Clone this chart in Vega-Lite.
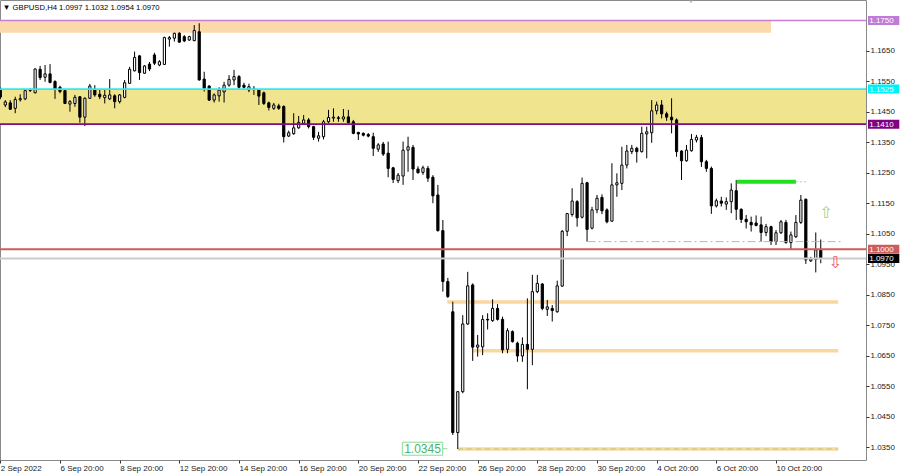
{
  "$schema": "https://vega.github.io/schema/vega-lite/v6.json",
  "width": 866,
  "height": 460,
  "autosize": {"type": "none"},
  "padding": {"left": 0, "top": 0, "right": 34, "bottom": 13},
  "background": "#ffffff",
  "resolve": {"scale": {"color": "independent"}},
  "config": {
    "view": {"stroke": "#8a8a8a", "strokeWidth": 1},
    "font": "Liberation Sans",
    "scale": {"continuousPadding": 0},
    "axis": {"labelFont": "Liberation Sans", "labelFontSize": 8, "labelColor": "#222222", "tickColor": "#333333", "domain": false, "grid": false, "labelOverlap": false}
  },
  "datasets": {
    "candles": [
      {"i":0,"o":1.1525,"h":1.1530,"l":1.1492,"c":1.1499},
      {"i":1,"o":1.1473,"h":1.1489,"l":1.1466,"c":1.1483},
      {"i":2,"o":1.1480,"h":1.1489,"l":1.1457,"c":1.1459},
      {"i":3,"o":1.1462,"h":1.1500,"l":1.1446,"c":1.1491},
      {"i":4,"o":1.1490,"h":1.1508,"l":1.1484,"c":1.1494},
      {"i":5,"o":1.1493,"h":1.1524,"l":1.1489,"c":1.1520},
      {"i":6,"o":1.1520,"h":1.1527,"l":1.1516,"c":1.1521},
      {"i":7,"o":1.1513,"h":1.1593,"l":1.1511,"c":1.1591},
      {"i":8,"o":1.1590,"h":1.1601,"l":1.1555,"c":1.1563},
      {"i":9,"o":1.1564,"h":1.1604,"l":1.1549,"c":1.1575},
      {"i":10,"o":1.1575,"h":1.1607,"l":1.1544,"c":1.1547},
      {"i":11,"o":1.1550,"h":1.1554,"l":1.1493,"c":1.1525},
      {"i":12,"o":1.1531,"h":1.1536,"l":1.1511,"c":1.1517},
      {"i":13,"o":1.1520,"h":1.1522,"l":1.1476,"c":1.1478},
      {"i":14,"o":1.1476,"h":1.1489,"l":1.1451,"c":1.1484},
      {"i":15,"o":1.1478,"h":1.1506,"l":1.1467,"c":1.1498},
      {"i":16,"o":1.1500,"h":1.1502,"l":1.1415,"c":1.1433},
      {"i":17,"o":1.1433,"h":1.1498,"l":1.1404,"c":1.1495},
      {"i":18,"o":1.1495,"h":1.1542,"l":1.1493,"c":1.1535},
      {"i":19,"o":1.1525,"h":1.1538,"l":1.1500,"c":1.1506},
      {"i":20,"o":1.1508,"h":1.1525,"l":1.1492,"c":1.1500},
      {"i":21,"o":1.1497,"h":1.1525,"l":1.1478,"c":1.1505},
      {"i":22,"o":1.1493,"h":1.1558,"l":1.1489,"c":1.1506},
      {"i":23,"o":1.1503,"h":1.1508,"l":1.1462,"c":1.1484},
      {"i":24,"o":1.1484,"h":1.1509,"l":1.1478,"c":1.1506},
      {"i":25,"o":1.1498,"h":1.1555,"l":1.1495,"c":1.1546},
      {"i":26,"o":1.1544,"h":1.1598,"l":1.1542,"c":1.1590},
      {"i":27,"o":1.1585,"h":1.1648,"l":1.1583,"c":1.1629},
      {"i":28,"o":1.1634,"h":1.1637,"l":1.1555,"c":1.1579},
      {"i":29,"o":1.1577,"h":1.1604,"l":1.1575,"c":1.1601},
      {"i":30,"o":1.1607,"h":1.1614,"l":1.1584,"c":1.1591},
      {"i":31,"o":1.1637,"h":1.1644,"l":1.1604,"c":1.1610},
      {"i":32,"o":1.1604,"h":1.1620,"l":1.1600,"c":1.1615},
      {"i":33,"o":1.1606,"h":1.1697,"l":1.1604,"c":1.1694},
      {"i":34,"o":1.1689,"h":1.1699,"l":1.1664,"c":1.1694},
      {"i":35,"o":1.1692,"h":1.1710,"l":1.1681,"c":1.1708},
      {"i":36,"o":1.1708,"h":1.1712,"l":1.1677,"c":1.1679},
      {"i":37,"o":1.1697,"h":1.1702,"l":1.1679,"c":1.1683},
      {"i":38,"o":1.1686,"h":1.1700,"l":1.1683,"c":1.1697},
      {"i":39,"o":1.1684,"h":1.1735,"l":1.1682,"c":1.1717},
      {"i":40,"o":1.1713,"h":1.1741,"l":1.1553,"c":1.1555},
      {"i":41,"o":1.1558,"h":1.1582,"l":1.1517,"c":1.1528},
      {"i":42,"o":1.1535,"h":1.1538,"l":1.1486,"c":1.1489},
      {"i":43,"o":1.1489,"h":1.1511,"l":1.1481,"c":1.1506},
      {"i":44,"o":1.1503,"h":1.1531,"l":1.1484,"c":1.1522},
      {"i":45,"o":1.1516,"h":1.1549,"l":1.1481,"c":1.1538},
      {"i":46,"o":1.1538,"h":1.1571,"l":1.1533,"c":1.1557},
      {"i":47,"o":1.1555,"h":1.1588,"l":1.1538,"c":1.1566},
      {"i":48,"o":1.1566,"h":1.1571,"l":1.1527,"c":1.1531},
      {"i":49,"o":1.1538,"h":1.1546,"l":1.1527,"c":1.1531},
      {"i":50,"o":1.1522,"h":1.1543,"l":1.1515,"c":1.1533},
      {"i":51,"o":1.1525,"h":1.1535,"l":1.1506,"c":1.1524},
      {"i":52,"o":1.1522,"h":1.1525,"l":1.1473,"c":1.1502},
      {"i":53,"o":1.1513,"h":1.1517,"l":1.1473,"c":1.1478},
      {"i":54,"o":1.1480,"h":1.1484,"l":1.1455,"c":1.1465},
      {"i":55,"o":1.1462,"h":1.1480,"l":1.1457,"c":1.1473},
      {"i":56,"o":1.1470,"h":1.1477,"l":1.1457,"c":1.1462},
      {"i":57,"o":1.1468,"h":1.1472,"l":1.1350,"c":1.1369},
      {"i":58,"o":1.1371,"h":1.1389,"l":1.1368,"c":1.1382},
      {"i":59,"o":1.1379,"h":1.1446,"l":1.1375,"c":1.1398},
      {"i":60,"o":1.1398,"h":1.1437,"l":1.1395,"c":1.1416},
      {"i":61,"o":1.1413,"h":1.1440,"l":1.1410,"c":1.1424},
      {"i":62,"o":1.1424,"h":1.1430,"l":1.1396,"c":1.1402},
      {"i":63,"o":1.1402,"h":1.1405,"l":1.1358,"c":1.1367},
      {"i":64,"o":1.1364,"h":1.1385,"l":1.1353,"c":1.1372},
      {"i":65,"o":1.1369,"h":1.1424,"l":1.1360,"c":1.1418},
      {"i":66,"o":1.1418,"h":1.1457,"l":1.1413,"c":1.1432},
      {"i":67,"o":1.1430,"h":1.1462,"l":1.1418,"c":1.1433},
      {"i":68,"o":1.1431,"h":1.1437,"l":1.1418,"c":1.1429},
      {"i":69,"o":1.1427,"h":1.1460,"l":1.1418,"c":1.1434},
      {"i":70,"o":1.1434,"h":1.1457,"l":1.1413,"c":1.1415},
      {"i":71,"o":1.1418,"h":1.1424,"l":1.1377,"c":1.1380},
      {"i":72,"o":1.1383,"h":1.1385,"l":1.1358,"c":1.1378},
      {"i":73,"o":1.1380,"h":1.1383,"l":1.1370,"c":1.1374},
      {"i":74,"o":1.1376,"h":1.1381,"l":1.1367,"c":1.1371},
      {"i":75,"o":1.1369,"h":1.1382,"l":1.1306,"c":1.1331},
      {"i":76,"o":1.1328,"h":1.1348,"l":1.1319,"c":1.1342},
      {"i":77,"o":1.1345,"h":1.1352,"l":1.1306,"c":1.1312},
      {"i":78,"o":1.1315,"h":1.1353,"l":1.1236,"c":1.1265},
      {"i":79,"o":1.1267,"h":1.1270,"l":1.1217,"c":1.1229},
      {"i":80,"o":1.1225,"h":1.1250,"l":1.1217,"c":1.1243},
      {"i":81,"o":1.1240,"h":1.1353,"l":1.1211,"c":1.1325},
      {"i":82,"o":1.1325,"h":1.1369,"l":1.1254,"c":1.1336},
      {"i":83,"o":1.1334,"h":1.1342,"l":1.1227,"c":1.1263},
      {"i":84,"o":1.1263,"h":1.1272,"l":1.1248,"c":1.1251},
      {"i":85,"o":1.1252,"h":1.1274,"l":1.1244,"c":1.1267},
      {"i":86,"o":1.1265,"h":1.1273,"l":1.1221,"c":1.1233},
      {"i":87,"o":1.1236,"h":1.1243,"l":1.1151,"c":1.1175},
      {"i":88,"o":1.1178,"h":1.1211,"l":1.1058,"c":1.1061},
      {"i":89,"o":1.1061,"h":1.1096,"l":1.0861,"c":1.0894},
      {"i":90,"o":1.0894,"h":1.0906,"l":1.0840,"c":1.0845},
      {"i":91,"o":1.0795,"h":1.0828,"l":1.0391,"c":1.0399},
      {"i":92,"o":1.0399,"h":1.0535,"l":1.0345,"c":1.0533},
      {"i":93,"o":1.0533,"h":1.0784,"l":1.0528,"c":1.0755},
      {"i":94,"o":1.0755,"h":1.0926,"l":1.0752,"c":1.0880},
      {"i":95,"o":1.0883,"h":1.0888,"l":1.0634,"c":1.0679},
      {"i":96,"o":1.0679,"h":1.0719,"l":1.0648,"c":1.0686},
      {"i":97,"o":1.0680,"h":1.0784,"l":1.0653,"c":1.0770},
      {"i":98,"o":1.0770,"h":1.0790,"l":1.0737,"c":1.0768},
      {"i":99,"o":1.0766,"h":1.0836,"l":1.0762,"c":1.0806},
      {"i":100,"o":1.0806,"h":1.0820,"l":1.0766,"c":1.0770},
      {"i":101,"o":1.0770,"h":1.0779,"l":1.0659,"c":1.0670},
      {"i":102,"o":1.0672,"h":1.0741,"l":1.0659,"c":1.0733},
      {"i":103,"o":1.0730,"h":1.0734,"l":1.0694,"c":1.0697},
      {"i":104,"o":1.0692,"h":1.0697,"l":1.0631,"c":1.0650},
      {"i":105,"o":1.0650,"h":1.0711,"l":1.0631,"c":1.0688},
      {"i":106,"o":1.0688,"h":1.0839,"l":1.0541,"c":1.0672},
      {"i":107,"o":1.0672,"h":1.0916,"l":1.0620,"c":1.0861},
      {"i":108,"o":1.0861,"h":1.0916,"l":1.0856,"c":1.0888},
      {"i":109,"o":1.0886,"h":1.0889,"l":1.0800,"c":1.0806},
      {"i":110,"o":1.0803,"h":1.0834,"l":1.0781,"c":1.0811},
      {"i":111,"o":1.0806,"h":1.0817,"l":1.0763,"c":1.0799},
      {"i":112,"o":1.0795,"h":1.0897,"l":1.0792,"c":1.0880},
      {"i":113,"o":1.0879,"h":1.1063,"l":1.0877,"c":1.1059},
      {"i":114,"o":1.1059,"h":1.1119,"l":1.1043,"c":1.1117},
      {"i":115,"o":1.1114,"h":1.1200,"l":1.1107,"c":1.1158},
      {"i":116,"o":1.1156,"h":1.1161,"l":1.1074,"c":1.1103},
      {"i":117,"o":1.1105,"h":1.1235,"l":1.1101,"c":1.1216},
      {"i":118,"o":1.1218,"h":1.1221,"l":1.1025,"c":1.1065},
      {"i":119,"o":1.1069,"h":1.1139,"l":1.1065,"c":1.1129},
      {"i":120,"o":1.1129,"h":1.1178,"l":1.1118,"c":1.1167},
      {"i":121,"o":1.1170,"h":1.1180,"l":1.1115,"c":1.1126},
      {"i":122,"o":1.1129,"h":1.1134,"l":1.1085,"c":1.1090},
      {"i":123,"o":1.1092,"h":1.1282,"l":1.1090,"c":1.1211},
      {"i":124,"o":1.1211,"h":1.1249,"l":1.1172,"c":1.1218},
      {"i":125,"o":1.1216,"h":1.1336,"l":1.1194,"c":1.1276},
      {"i":126,"o":1.1276,"h":1.1342,"l":1.1265,"c":1.1322},
      {"i":127,"o":1.1320,"h":1.1342,"l":1.1312,"c":1.1331},
      {"i":128,"o":1.1331,"h":1.1336,"l":1.1284,"c":1.1320},
      {"i":129,"o":1.1320,"h":1.1402,"l":1.1317,"c":1.1380},
      {"i":130,"o":1.1378,"h":1.1402,"l":1.1298,"c":1.1385},
      {"i":131,"o":1.1382,"h":1.1489,"l":1.1349,"c":1.1454},
      {"i":132,"o":1.1454,"h":1.1484,"l":1.1442,"c":1.1473},
      {"i":133,"o":1.1473,"h":1.1489,"l":1.1429,"c":1.1444},
      {"i":134,"o":1.1444,"h":1.1451,"l":1.1421,"c":1.1433},
      {"i":135,"o":1.1433,"h":1.1495,"l":1.1380,"c":1.1424},
      {"i":136,"o":1.1424,"h":1.1429,"l":1.1303,"c":1.1320},
      {"i":137,"o":1.1322,"h":1.1325,"l":1.1227,"c":1.1290},
      {"i":138,"o":1.1290,"h":1.1342,"l":1.1287,"c":1.1325},
      {"i":139,"o":1.1323,"h":1.1378,"l":1.1320,"c":1.1360},
      {"i":140,"o":1.1358,"h":1.1375,"l":1.1350,"c":1.1367},
      {"i":141,"o":1.1366,"h":1.1375,"l":1.1270,"c":1.1287},
      {"i":142,"o":1.1287,"h":1.1293,"l":1.1254,"c":1.1265},
      {"i":143,"o":1.1265,"h":1.1271,"l":1.1116,"c":1.1142},
      {"i":144,"o":1.1142,"h":1.1166,"l":1.1137,"c":1.1159},
      {"i":145,"o":1.1158,"h":1.1172,"l":1.1140,"c":1.1151},
      {"i":146,"o":1.1148,"h":1.1170,"l":1.1129,"c":1.1156},
      {"i":147,"o":1.1156,"h":1.1216,"l":1.1118,"c":1.1194},
      {"i":148,"o":1.1192,"h":1.1227,"l":1.1096,"c":1.1131},
      {"i":149,"o":1.1131,"h":1.1134,"l":1.1086,"c":1.1098},
      {"i":150,"o":1.1098,"h":1.1112,"l":1.1068,"c":1.1090},
      {"i":151,"o":1.1088,"h":1.1107,"l":1.1058,"c":1.1080},
      {"i":152,"o":1.1086,"h":1.1111,"l":1.1075,"c":1.1078},
      {"i":153,"o":1.1080,"h":1.1107,"l":1.1025,"c":1.1055},
      {"i":154,"o":1.1055,"h":1.1083,"l":1.1043,"c":1.1074},
      {"i":155,"o":1.1074,"h":1.1077,"l":1.1014,"c":1.1025},
      {"i":156,"o":1.1025,"h":1.1063,"l":1.1014,"c":1.1054},
      {"i":157,"o":1.1054,"h":1.1096,"l":1.1050,"c":1.1090},
      {"i":158,"o":1.1088,"h":1.1096,"l":1.1018,"c":1.1022},
      {"i":159,"o":1.1022,"h":1.1058,"l":1.0998,"c":1.1047},
      {"i":160,"o":1.1041,"h":1.1112,"l":1.1037,"c":1.1088},
      {"i":161,"o":1.1088,"h":1.1178,"l":1.1083,"c":1.1161},
      {"i":162,"o":1.1164,"h":1.1166,"l":1.0952,"c":1.0965},
      {"i":163,"o":1.0962,"h":1.0975,"l":1.0958,"c":1.0968},
      {"i":164,"o":1.0967,"h":1.1055,"l":1.0924,"c":1.0998},
      {"i":165,"o":1.0997,"h":1.1032,"l":1.0954,"c":1.0970}
    ]
  },
  "layer": [
    {
      "data": {"values": [{"a": -1, "b": 155, "lo": 1.1710, "hi": 1.1752}]},
      "mark": {"type": "rect", "color": "#fbd9aa", "clip": true},
      "encoding": {
        "x": {"field": "a", "type": "quantitative", "scale": {"domain": [-0.066, 174.1], "nice": false, "zero": false, "padding": 0},
          "axis": {"orient": "bottom", "title": null, "tickCount": 40, "values": [0, 12, 24, 36, 48, 60, 72, 84, 96, 108, 120, 132, 144, 156],
            "labelExpr": "['2 Sep 2022','6 Sep 20:00','8 Sep 20:00','12 Sep 20:00','14 Sep 20:00','16 Sep 20:00','20 Sep 20:00','22 Sep 20:00','26 Sep 20:00','28 Sep 20:00','30 Sep 20:00','4 Oct 20:00','6 Oct 20:00','10 Oct 20:00'][round(datum.value/12)]",
            "labelAlign": "left", "labelBaseline": "top", "labelPadding": 1, "tickSize": 3, "labelFlush": false, "labelOverlap": false, "labelBound": false}},
        "x2": {"field": "b"},
        "y": {"field": "lo", "type": "quantitative", "scale": {"domain": [1.0309, 1.18172], "nice": false, "zero": false, "padding": 0},
          "axis": {"orient": "right", "title": null, "tickCount": 40, "values": [1.035, 1.045, 1.055, 1.065, 1.075, 1.085, 1.095, 1.105, 1.115, 1.125, 1.135, 1.145, 1.155, 1.165],
            "format": ".4f", "tickSize": 3, "labelPadding": 1, "labelAlign": "left", "labelBaseline": "middle", "labelFlush": false, "labelOverlap": false, "labelBound": false}},
        "y2": {"field": "hi"}
      }
    },
    {
      "data": {"values": [{"a": -1, "b": 175, "lo": 1.1410, "hi": 1.1525}]},
      "mark": {"type": "rect", "color": "#f0e48e", "clip": true},
      "encoding": {
        "x": {"field": "a", "type": "quantitative", "scale": {"domain": [-0.066, 174.1], "nice": false, "zero": false, "padding": 0}},
        "x2": {"field": "b"},
        "y": {"field": "lo", "type": "quantitative", "scale": {"domain": [1.0309, 1.18172], "nice": false, "zero": false, "padding": 0}},
        "y2": {"field": "hi"}
      }
    },
    {
      "data": {"values": [{"a": 89.9, "b": 168.5, "p": 1.0827}, {"a": 95, "b": 168.5, "p": 1.0667}, {"a": 92, "b": 168.5, "p": 1.0345}]},
      "mark": {"type": "rule", "color": "#fbd7a0", "strokeWidth": 3.5},
      "encoding": {
        "x": {"field": "a", "type": "quantitative", "scale": {"domain": [-0.066, 174.1], "nice": false, "zero": false, "padding": 0}},
        "x2": {"field": "b"},
        "y": {"field": "p", "type": "quantitative", "scale": {"domain": [1.0309, 1.18172], "nice": false, "zero": false, "padding": 0}}
      }
    },
    {
      "data": {"values": [{"a": 92, "b": 168.5, "p": 1.0345}]},
      "mark": {"type": "rule", "color": "#9fd47a", "strokeWidth": 1, "strokeDash": [5, 4]},
      "encoding": {
        "x": {"field": "a", "type": "quantitative", "scale": {"domain": [-0.066, 174.1], "nice": false, "zero": false, "padding": 0}},
        "x2": {"field": "b"},
        "y": {"field": "p", "type": "quantitative", "scale": {"domain": [1.0309, 1.18172], "nice": false, "zero": false, "padding": 0}}
      }
    },
    {
      "data": {"name": "candles"},
      "mark": {"type": "rule", "color": "#000000", "strokeWidth": 1},
      "encoding": {
        "x": {"field": "i", "type": "quantitative", "scale": {"domain": [-0.066, 174.1], "nice": false, "zero": false, "padding": 0}},
        "y": {"field": "l", "type": "quantitative", "scale": {"domain": [1.0309, 1.18172], "nice": false, "zero": false, "padding": 0}},
        "y2": {"field": "h"}
      }
    },
    {
      "data": {"name": "candles"},
      "mark": {"type": "bar", "size": 2.2, "stroke": "#000000", "strokeWidth": 1, "orient": "vertical"},
      "encoding": {
        "x": {"field": "i", "type": "quantitative", "scale": {"domain": [-0.066, 174.1], "nice": false, "zero": false, "padding": 0}},
        "y": {"field": "o", "type": "quantitative", "scale": {"domain": [1.0309, 1.18172], "nice": false, "zero": false, "padding": 0}},
        "y2": {"field": "c"},
        "fill": {"condition": {"test": "datum.c >= datum.o", "value": "#ffffff"}, "value": "#000000"}
      }
    },
    {
      "data": {"values": [{"lvl": "1.1750", "p": 1.1750}, {"lvl": "1.1525", "p": 1.1525}, {"lvl": "1.1410", "p": 1.1410}, {"lvl": "1.1000", "p": 1.1000}, {"lvl": "1.0970", "p": 1.0970}]},
      "mark": {"type": "rule"},
      "encoding": {
        "y": {"field": "p", "type": "quantitative", "scale": {"domain": [1.0309, 1.18172], "nice": false, "zero": false, "padding": 0}},
        "color": {"field": "lvl", "type": "nominal", "legend": null, "scale": {"domain": ["1.1750", "1.1525", "1.1410", "1.1000", "1.0970"], "range": ["#c77fd4", "#2ee8f2", "#820a82", "#cd5c5c", "#cccccc"]}},
        "strokeWidth": {"field": "lvl", "type": "nominal", "legend": null, "scale": {"domain": ["1.1750", "1.1525", "1.1410", "1.1000", "1.0970"], "range": [1.5, 2, 2.5, 1.5, 1]}}
      }
    },
    {
      "data": {"values": [{"a": 118.1, "b": 169, "p": 1.1025}]},
      "mark": {"type": "rule", "color": "#86c8d8", "strokeWidth": 1, "strokeDash": [8, 3, 2, 3]},
      "encoding": {
        "x": {"field": "a", "type": "quantitative", "scale": {"domain": [-0.066, 174.1], "nice": false, "zero": false, "padding": 0}},
        "x2": {"field": "b"},
        "y": {"field": "p", "type": "quantitative", "scale": {"domain": [1.0309, 1.18172], "nice": false, "zero": false, "padding": 0}}
      }
    },
    {
      "data": {"values": [{"a": 148.1, "b": 160, "p": 1.1221}]},
      "mark": {"type": "rule", "color": "#1ee01e", "strokeWidth": 4},
      "encoding": {
        "x": {"field": "a", "type": "quantitative", "scale": {"domain": [-0.066, 174.1], "nice": false, "zero": false, "padding": 0}},
        "x2": {"field": "b"},
        "y": {"field": "p", "type": "quantitative", "scale": {"domain": [1.0309, 1.18172], "nice": false, "zero": false, "padding": 0}}
      }
    },
    {
      "data": {"values": [{"a": 160, "b": 162.3, "p": 1.1221}]},
      "mark": {"type": "rule", "color": "#90e090", "strokeWidth": 1, "strokeDash": [2, 2]},
      "encoding": {
        "x": {"field": "a", "type": "quantitative", "scale": {"domain": [-0.066, 174.1], "nice": false, "zero": false, "padding": 0}},
        "x2": {"field": "b"},
        "y": {"field": "p", "type": "quantitative", "scale": {"domain": [1.0309, 1.18172], "nice": false, "zero": false, "padding": 0}}
      }
    },
    {
      "data": {"values": [{"a": 88.97, "b": 89.9, "p": 1.0346}]},
      "mark": {"type": "rule", "color": "#8fd88f", "strokeWidth": 1},
      "encoding": {
        "x": {"field": "a", "type": "quantitative", "scale": {"domain": [-0.066, 174.1], "nice": false, "zero": false, "padding": 0}},
        "x2": {"field": "b"},
        "y": {"field": "p", "type": "quantitative", "scale": {"domain": [1.0309, 1.18172], "nice": false, "zero": false, "padding": 0}}
      }
    },
    {
      "data": {"values": [{"a": 80.85, "b": 88.97, "p": 1.0346}]},
      "mark": {"type": "bar", "size": 13, "orient": "horizontal", "fill": "#ffffff", "stroke": "#8fd88f", "strokeWidth": 1},
      "encoding": {
        "x": {"field": "a", "type": "quantitative", "scale": {"domain": [-0.066, 174.1], "nice": false, "zero": false, "padding": 0}},
        "x2": {"field": "b"},
        "y": {"field": "p", "type": "quantitative", "scale": {"domain": [1.0309, 1.18172], "nice": false, "zero": false, "padding": 0}}
      }
    },
    {
      "data": {"values": [{"x": 84.91, "p": 1.0346, "t": "1.0345"}]},
      "mark": {"type": "text", "font": "Liberation Sans", "fontSize": 12, "color": "#46b46e", "align": "center", "baseline": "middle", "dy": 0.5},
      "encoding": {
        "x": {"field": "x", "type": "quantitative", "scale": {"domain": [-0.066, 174.1], "nice": false, "zero": false, "padding": 0}},
        "y": {"field": "p", "type": "quantitative", "scale": {"domain": [1.0309, 1.18172], "nice": false, "zero": false, "padding": 0}},
        "text": {"field": "t"}
      }
    },
    {
      "data": {"values": [{"x": 166.06, "p": 1.1118, "t": "⇧"}]},
      "mark": {"type": "text", "font": "DejaVu Sans", "fontSize": 16, "color": "#a8d070", "align": "center", "baseline": "middle"},
      "encoding": {
        "x": {"field": "x", "type": "quantitative", "scale": {"domain": [-0.066, 174.1], "nice": false, "zero": false, "padding": 0}},
        "y": {"field": "p", "type": "quantitative", "scale": {"domain": [1.0309, 1.18172], "nice": false, "zero": false, "padding": 0}},
        "text": {"field": "t"}
      }
    },
    {
      "data": {"values": [{"x": 167.9, "p": 1.0956, "t": "⇩"}]},
      "mark": {"type": "text", "font": "DejaVu Sans", "fontSize": 16, "color": "#f05a5a", "align": "center", "baseline": "middle"},
      "encoding": {
        "x": {"field": "x", "type": "quantitative", "scale": {"domain": [-0.066, 174.1], "nice": false, "zero": false, "padding": 0}},
        "y": {"field": "p", "type": "quantitative", "scale": {"domain": [1.0309, 1.18172], "nice": false, "zero": false, "padding": 0}},
        "text": {"field": "t"}
      }
    },
    {
      "data": {"values": [{"x": 0.5, "p": 1.1792, "t": "▼ GBPUSD,H4  1.0997 1.1032 1.0954 1.0970"}]},
      "mark": {"type": "text", "font": "Liberation Sans", "fontSize": 7.7, "color": "#000000", "align": "left", "baseline": "middle"},
      "encoding": {
        "x": {"field": "x", "type": "quantitative", "scale": {"domain": [-0.066, 174.1], "nice": false, "zero": false, "padding": 0}},
        "y": {"field": "p", "type": "quantitative", "scale": {"domain": [1.0309, 1.18172], "nice": false, "zero": false, "padding": 0}},
        "text": {"field": "t"}
      }
    },
    {
      "data": {"values": [{"x": 138.9, "p": 1.1813}]},
      "mark": {"type": "point", "shape": "triangle-down", "size": 25, "filled": true, "color": "#a0a0a0"},
      "encoding": {
        "x": {"field": "x", "type": "quantitative", "scale": {"domain": [-0.066, 174.1], "nice": false, "zero": false, "padding": 0}},
        "y": {"field": "p", "type": "quantitative", "scale": {"domain": [1.0309, 1.18172], "nice": false, "zero": false, "padding": 0}}
      }
    },
    {
      "data": {"values": [{"name": "1.1750", "p": 1.1750, "a": 174.5, "b": 180.8}, {"name": "1.1525", "p": 1.1525, "a": 174.5, "b": 180.8}, {"name": "1.1410", "p": 1.1410, "a": 174.5, "b": 180.8}, {"name": "1.1000", "p": 1.1000, "a": 174.5, "b": 180.8}, {"name": "1.0970", "p": 1.0970, "a": 174.5, "b": 180.8}]},
      "mark": {"type": "bar", "size": 9, "orient": "horizontal"},
      "encoding": {
        "x": {"field": "a", "type": "quantitative", "scale": {"domain": [-0.066, 174.1], "nice": false, "zero": false, "padding": 0}},
        "x2": {"field": "b"},
        "y": {"field": "p", "type": "quantitative", "scale": {"domain": [1.0309, 1.18172], "nice": false, "zero": false, "padding": 0}},
        "color": {"field": "name", "type": "nominal", "legend": null, "scale": {"domain": ["1.1750", "1.1525", "1.1410", "1.1000", "1.0970"], "range": ["#c07ad8", "#00f0f8", "#800080", "#cd5c5c", "#000000"]}}
      }
    },
    {
      "data": {"values": [{"name": "1.1750", "p": 1.1750, "x": 174.75}, {"name": "1.1525", "p": 1.1525, "x": 174.75}, {"name": "1.1410", "p": 1.1410, "x": 174.75}, {"name": "1.1000", "p": 1.1000, "x": 174.75}, {"name": "1.0970", "p": 1.0970, "x": 174.75}]},
      "mark": {"type": "text", "font": "Liberation Sans", "fontSize": 8, "color": "#ffffff", "align": "left", "baseline": "middle", "dy": 0.5},
      "encoding": {
        "x": {"field": "x", "type": "quantitative", "scale": {"domain": [-0.066, 174.1], "nice": false, "zero": false, "padding": 0}},
        "y": {"field": "p", "type": "quantitative", "scale": {"domain": [1.0309, 1.18172], "nice": false, "zero": false, "padding": 0}},
        "text": {"field": "name"}
      }
    }
  ]
}
